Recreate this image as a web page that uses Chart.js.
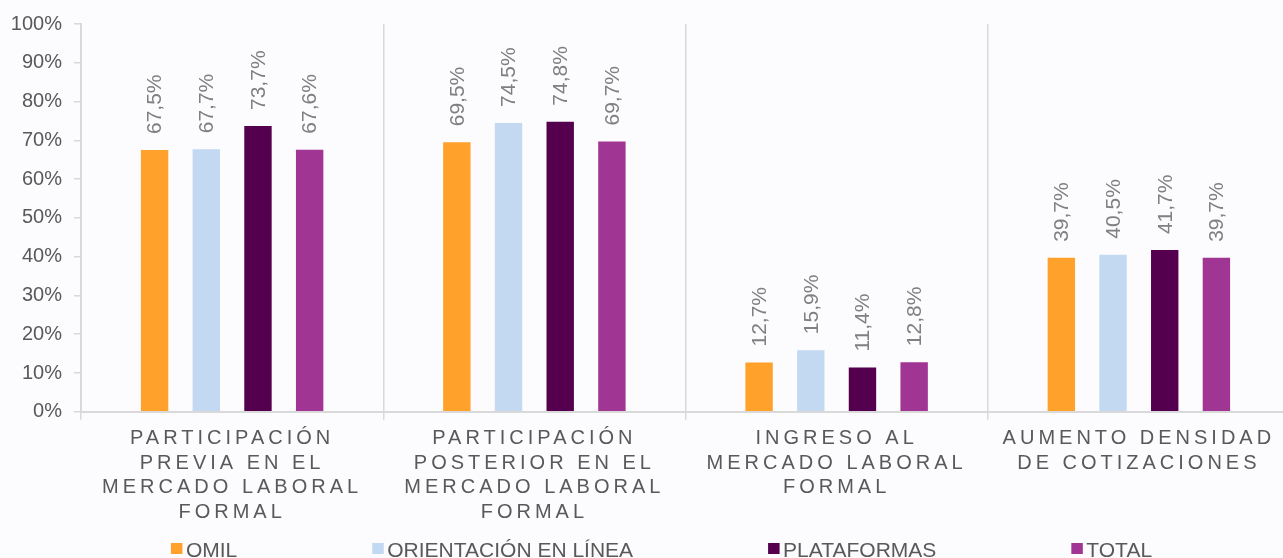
<!DOCTYPE html>
<html>
<head>
<meta charset="utf-8">
<script src="https://cdn.jsdelivr.net/npm/chart.js@4/dist/chart.umd.min.js"></script>
<style>
  html, body { margin: 0; padding: 0; background: #fcfbfd; overflow: hidden; }
  #wrap { position: relative; width: 1290px; height: 558px; }
</style>
</head>
<body>
<div id="wrap"><canvas id="c"></canvas></div>
<script>
const categories = [
  ["PARTICIPACIÓN", "PREVIA EN EL", "MERCADO LABORAL", "FORMAL"],
  ["PARTICIPACIÓN", "POSTERIOR EN EL", "MERCADO LABORAL", "FORMAL"],
  ["INGRESO AL", "MERCADO LABORAL", "FORMAL"],
  ["AUMENTO DENSIDAD", "DE COTIZACIONES"]
];
const seriesNames = ["OMIL", "ORIENTACIÓN EN LÍNEA", "PLATAFORMAS", "TOTAL"];
const omil        = [67.5, 69.5, 12.7, 39.7];
const orientacion = [67.7, 74.5, 15.9, 40.5];
const plataformas = [73.7, 74.8, 11.4, 41.7];
const total       = [67.6, 69.7, 12.8, 39.7];
const yTicks = [0, 10, 20, 30, 40, 50, 60, 70, 80, 90, 100];
const colors = ["#ffa12b", "#c3d9f2", "#54004f", "#a03593"];

const FONT = "'Liberation Sans', Arial, sans-serif";
const seriesValues = [omil, orientacion, plataformas, total];

const valueLabels = {
  id: 'valueLabels',
  beforeDraw(chart) { chart.ctx.letterSpacing = '0px'; },
  afterDatasetsDraw(chart) {
    const ctx = chart.ctx;
    ctx.save();
    ctx.font = '21px ' + FONT;
    ctx.fillStyle = '#808080';
    ctx.textAlign = 'left';
    ctx.textBaseline = 'middle';
    chart.data.datasets.forEach((ds, i) => {
      const meta = chart.getDatasetMeta(i);
      meta.data.forEach((bar, j) => {
        const txt = ds.data[j].toFixed(1).replace('.', ',') + '%';
        ctx.save();
        ctx.translate(bar.x, bar.y - 16);
        ctx.rotate(-Math.PI / 2);
        ctx.fillText(txt, 0, 1);
        ctx.restore();
      });
    });
    ctx.restore();
    // letter spacing for category labels drawn next (x ticks layer z=1)
    ctx.letterSpacing = '4px';
  },
  afterDraw(chart) {
    const ctx = chart.ctx;
    ctx.letterSpacing = '0px';
    // legend
    ctx.save();
    ctx.font = '21px ' + FONT;
    ctx.textBaseline = 'alphabetic';
    ctx.textAlign = 'left';
    const box = 11, textGap = 15, itemGap = 135;
    const widths = chart.data.datasets.map(ds => textGap + ctx.measureText(ds.label).width);
    const totalW = widths.reduce((a, b) => a + b, 0) + itemGap * (widths.length - 1);
    let x = 661.5 - totalW / 2;
    const baseY = chart.height - 1;
    chart.data.datasets.forEach((ds, i) => {
      ctx.fillStyle = ds.backgroundColor;
      ctx.fillRect(x, baseY - 14, box + 0.5, box);
      ctx.fillStyle = '#595959';
      ctx.fillText(ds.label, x + textGap, baseY);
      x += widths[i] + itemGap;
    });
    ctx.restore();
  }
};

new Chart(document.getElementById('c'), {
  type: 'bar',
  data: {
    labels: categories,
    datasets: seriesNames.map((name, i) => ({
      label: name,
      data: seriesValues[i],
      backgroundColor: colors[i],
      categoryPercentage: 0.684,
      barPercentage: 0.53
    }))
  },
  options: {
    responsive: true,
    maintainAspectRatio: false,
    animation: false,
    layout: { padding: { top: 22, bottom: 27, left: 0, right: 0 } },
    plugins: {
      legend: { display: false },
      tooltip: { enabled: false }
    },
    scales: {
      x: {
        grid: {
          display: true,
          offset: true,
          color: '#d9d9d9',
          lineWidth: 1.5,
          tickLength: 8,
          drawOnChartArea: true,
          drawTicks: true
        },
        border: { display: true, color: '#d9d9d9', width: 2 },
        ticks: {
          z: 1,
          color: '#595959',
          font: { family: FONT, size: 20, lineHeight: 1.24 },
          padding: 6,
          maxRotation: 0,
          autoSkip: false
        }
      },
      y: {
        min: 0,
        max: 100,
        afterFit(s) { s.width = 81; },
        afterBuildTicks(s) { s.ticks = yTicks.map(v => ({ value: v })); },
        grid: {
          drawOnChartArea: false,
          drawTicks: true,
          tickLength: 7,
          color: '#d9d9d9',
          lineWidth: 1.5
        },
        border: { display: true, color: '#d9d9d9', width: 2 },
        ticks: {
          color: '#595959',
          font: { family: FONT, size: 20 },
          padding: 12,
          callback: v => v + '%'
        }
      }
    }
  },
  plugins: [valueLabels]
});
</script>
</body>
</html>
